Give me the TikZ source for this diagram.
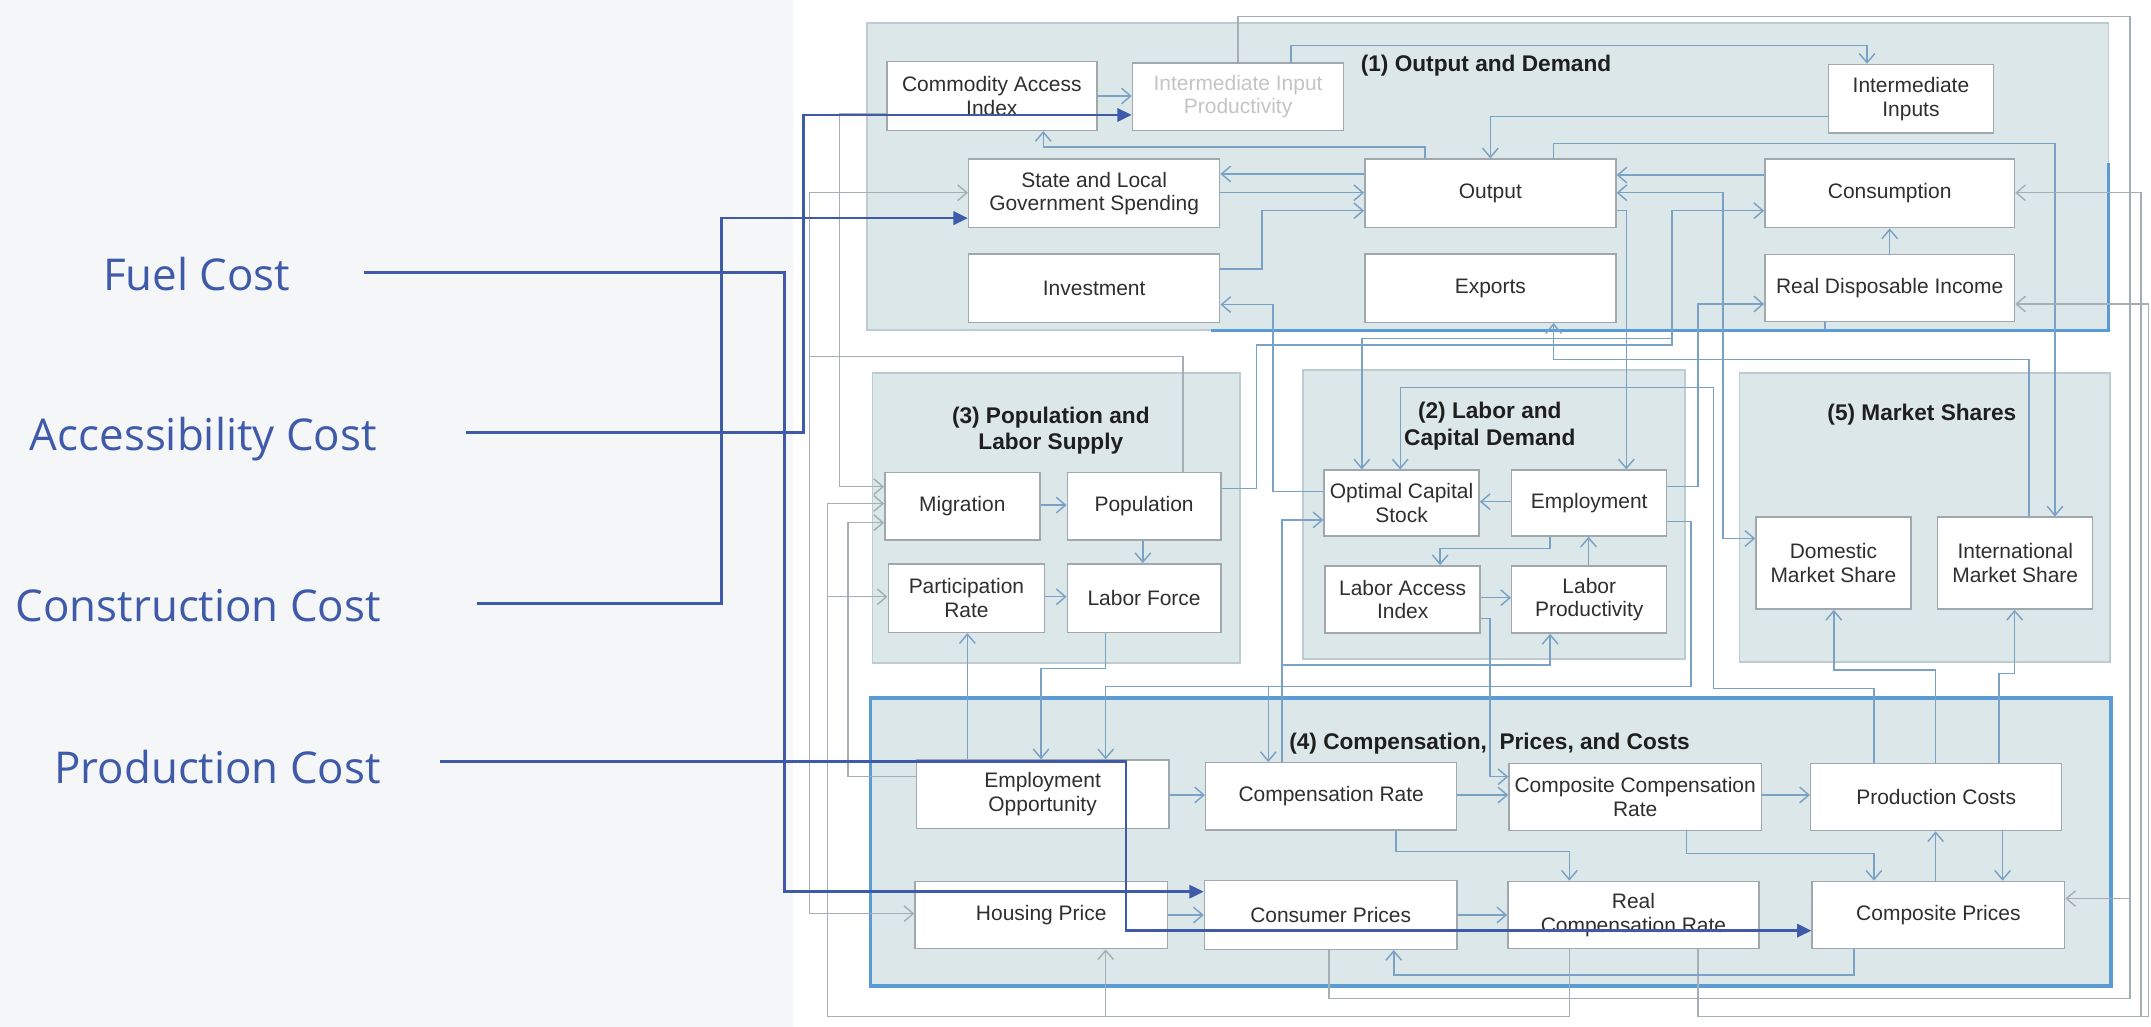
\documentclass[tikz,border=0pt]{standalone}
\usepackage{fontspec}
\setmainfont{Liberation Sans}
\newfontfamily\costfont{Open Sans}
\usetikzlibrary{arrows.meta}

\definecolor{paper}{HTML}{F5F6F8}
\definecolor{panel}{HTML}{DCE7EA}
\definecolor{panelrim}{HTML}{BCCCD1}
\definecolor{rim}{HTML}{A0A8AD}
\definecolor{wire}{HTML}{7AA2C4}
\definecolor{greyline}{HTML}{A5AEB5}
\definecolor{hilite}{HTML}{5B9BD5}
\definecolor{costblue}{HTML}{3F5AA8}
\definecolor{ink}{HTML}{2F2F2F}
\definecolor{faded}{HTML}{C4C4C4}

\pgfdeclarelayer{back}
\pgfsetlayers{back,main}

\tikzset{
  bx/.style={draw=rim, line width=0.6pt, fill=white, align=center, inner sep=1pt,
    text=ink, font=\fontsize{8.7}{9.8}\selectfont},
  pnl/.style={draw=panelrim, line width=0.8pt, fill=panel},
  ttl/.style={font=\fontsize{9.4}{11}\selectfont\bfseries, text=black!88,
    align=center, inner sep=0pt},
  wr/.style={draw=wire, line width=0.6pt, ->},
  lp/.style={draw=greyline, line width=0.6pt, ->},
  cost/.style={font=\costfont\fontsize{18.2}{22}\selectfont, text=costblue,
    inner sep=0pt, anchor=base east},
  feed/.style={draw=costblue, line width=1.1pt, -{Triangle[length=6pt,width=5.5pt]}}
}

\begin{document}
\begin{tikzpicture}[x=0.02cm, y=-0.02cm, >={Straight Barb[length=3.8pt,width=6.5pt]}]
  \path[use as bounding box] (0,0) rectangle (1568,748.6);

  \foreach \nm/\cx/\cy/\bw/\bh/\txt in {
    cai/723/70/153/50/{Commodity Access\\Index},
    ii/1393/72/120/50/{Intermediate\\Inputs},
    slg/797.6/141/183/50/{State and Local\\Government Spending},
    out/1086.4/141/183/50/Output,
    con/1377.5/141/182/50/Consumption,
    inv/797.6/210/183/50/Investment,
    exp/1086.4/210/183/50/Exports,
    rdi/1377.5/210/182/49/Real Disposable Income,
    mig/701.5/369/113/49/Migration,
    pop/834/369/112/49/Population,
    par/704.5/436/114/50/{Participation\\Rate},
    lab/834/436/112/50/Labor Force,
    ocs/1021.7/366.7/113/48/{Optimal Capital\\Stock},
    emp/1158.5/366.7/113/48/Employment,
    lai/1022.5/437/113/49/{Labor Access\\Index},
    lpr/1158.5/437/113/49/{Labor\\Productivity},
    dms/1336.5/410.5/113/67/{Domestic\\Market Share},
    ims/1469/410.5/113/67/{International\\Market Share},
    eop/760/579/184/50/{Employment\\Opportunity},
    cor/970.4/580.5/183/49/Compensation Rate,
    ccr/1192/581/184/49/{Composite Compensation\\Rate},
    pco/1411.4/581/183/49/Production Costs,
    hou/759/667/184/49/Housing Price,
    cpr/970/667/184/50/Consumer Prices,
    rcr/1190.7/667/183/49/{Real\\Compensation Rate},
    cop/1413/667/184/49/Composite Prices}
  { \node[bx, minimum width=\bw*0.02cm, minimum height=\bh*0.02cm] (\nm) at (\cx,\cy) {\txt}; }
  \node[bx, text=faded, minimum width=3.08cm, minimum height=0.98cm] (iip) at (902.5,70.5)
    {Intermediate Input\\Productivity};

  \node[ttl, anchor=west] (t1) at (991.6,48) {(1) Output and Demand};
  \node[ttl] (t3) at (766,314) {(3) Population and\\Labor Supply};
  \node[ttl] (t2) at (1086,310.5) {(2) Labor and\\Capital Demand};
  \node[ttl] (t5) at (1401,302.6) {(5) Market Shares};
  \node[ttl, anchor=west] (t4) at (939.5,541.9) {(4) Compensation,\ \ Prices, and Costs};

  \begin{pgfonlayer}{back}
    \fill[paper] (0,0) rectangle (1568,748.6);
    \fill[white] (578,0) rectangle (1568,748.6);
    \draw[pnl] (632,17) rectangle (1537,240.6);
    \draw[pnl] (636,272) rectangle (903.7,483.6);
    \draw[pnl] (950,269.7) rectangle (1228.4,480.7);
    \draw[pnl] (1268,272) rectangle (1538,482.5);
    \draw[pnl, draw=hilite, line width=1.6pt] (634.6,509) rectangle (1538.6,718.5);
    \draw[hilite, line width=1.2pt] (883,240.6) -| (1537,119);
  \end{pgfonlayer}

  % output and demand
  \draw[wr] (cai.east) -- (cai.east -| iip.west);
  \draw[wr] (1038.8,0 |- out.north) |- (760.5,107) -- (760.5,0 |- cai.south);
  \draw[wr] (ii.west |- 0,85) -| (out.north);
  \draw[wr] (941,0 |- iip.north) -- (941,33) -| (1361,0 |- ii.north);
  \draw[wr] (out.west |- 0,126.8) -- (slg.east |- 0,126.8);
  \draw[wr] (slg.east |- 0,140.5) -- (out.west |- 0,140.5);
  \draw[wr] (inv.east |- 0,196) -- (920,196) |- (out.west |- 0,153.6);
  \draw[wr] (ocs.west |- 0,358.4) -| (928,222) -- (inv.east |- 0,222);
  \draw[wr] (con.west |- 0,127.6) -- (out.east |- 0,127.6);
  \draw[wr] (out.east |- 0,153.6) -| (1185.5,0 |- emp.north);
  \draw[wr] (1132.5,0 |- out.north) |- (1498,104.5) -- (1498,0 |- ims.north);
  \draw[wr] (rdi.north) -- (con.south);
  \draw[wr, <->] (out.east |- 0,140.5) -| (1256,392.5) -- (dms.west |- 0,392.5);
  \draw[wr] (pop.east |- 0,356) -| (916,251.5) -| (1218.7,153.6) -- (con.west |- 0,153.6);
  \draw[wr] (1218.7,246.6) -| (992.7,0 |- ocs.north);
  \draw[wr] (emp.east |- 0,354.8) -| (1237.6,221.6) -- (rdi.west |- 0,221.6);
  \draw[wr] (1479,0 |- ims.north) |- (1132.5,262) -- (1132.5,0 |- exp.south);
  \draw[wr, -] (1330.3,0 |- rdi.south) -- (1330.3,240.6);

  % long loops
  \draw[lp] (iip.north) |- (1552.8,12) |- (cop.east |- 0,655);
  \draw[lp, -] (1552.8,655) |- (968.8,727.8) -- (968.8,0 |- cpr.south);
  \draw[lp] (1237.6,0 |- rcr.south) |- (1566,741) |- (rdi.east |- 0,221.6);
  \draw[lp] (1560.7,741) |- (con.east |- 0,140.5);
  \draw[lp] (1144,0 |- rcr.south) |- (603.4,741) |- (mig.west |- 0,367);
  \draw[lp] (603.4,435) -- (par.west |- 0,435);
  \draw[lp] (806,741) -- (806,0 |- hou.south);
  \draw[lp] (cai.west |- 0,82.6) -| (611.8,354.8) -- (mig.west |- 0,354.8);
  \draw[lp] (862.4,0 |- pop.north) |- (590,260) |- (slg.west |- 0,140.5);
  \draw[lp] (590,260) |- (hou.west |- 0,666);
  \draw[lp] (eop.west |- 0,566.2) -| (618.3,381) -- (mig.west |- 0,381);

  % population and labor supply
  \draw[wr] (mig.east |- 0,368.2) -- (pop.west |- 0,368.2);
  \draw[wr] (833.1,0 |- pop.south) -- (833.1,0 |- lab.north);
  \draw[wr] (par.east |- 0,435) -- (lab.west |- 0,435);
  \draw[wr] (705.2,0 |- eop.north) -- (705.2,0 |- par.south);
  \draw[wr] (806,0 |- lab.south) |- (758.9,487.3) -- (758.9,0 |- eop.north);

  % labor and capital demand
  \draw[wr] (emp.east |- 0,380.3) -| (1232.7,500.6) -| (806,0 |- eop.north);
  \draw[wr] (924.5,500.6) -- (924.5,0 |- cor.north);
  \draw[wr] (934.6,0 |- cor.north) |- (ocs.west |- 0,379);
  \draw[wr] (934.6,484.8) -| (1130,0 |- lpr.south);
  \draw[wr] (emp.west |- 0,365.7) -- (ocs.east |- 0,365.7);
  \draw[wr] (1130,0 |- emp.south) |- (1049.8,399.7) -- (1049.8,0 |- lai.north);
  \draw[wr] (1158,0 |- lpr.north) -- (1158,0 |- emp.south);
  \draw[wr] (lai.east |- 0,435.7) -- (lpr.west |- 0,435.7);
  \draw[wr] (lai.east |- 0,450.8) -| (1086.3,566.2) -- (ccr.west |- 0,566.2);
  \draw[wr] (1366,0 |- pco.north) |- (1249,501.8) |- (1020.7,282.4) -- (1020.7,0 |- ocs.north);
  \draw[wr] (1411,0 |- pco.north) |- (1336.8,488.5) -- (1336.8,0 |- dms.south);
  \draw[wr] (1457.2,0 |- pco.north) |- (1468.6,490.9) -- (1468.6,0 |- ims.south);

  % compensation, prices and costs
  \draw[wr] (eop.east |- 0,579.5) -- (cor.west |- 0,579.5);
  \draw[wr] (cor.east |- 0,579.5) -- (ccr.west |- 0,579.5);
  \draw[wr] (ccr.east |- 0,579.5) -- (pco.west |- 0,579.5);
  \draw[wr] (hou.east |- 0,667) -- (cpr.west |- 0,667);
  \draw[wr] (cpr.east |- 0,667) -- (rcr.west |- 0,667);
  \draw[wr] (1017.6,0 |- cor.south) |- (1144,620.8) -- (1144,0 |- rcr.north);
  \draw[wr] (1229.5,0 |- ccr.south) |- (1366,622) -- (1366,0 |- cop.north);
  \draw[wr] (1459.8,0 |- pco.south) -- (1459.8,0 |- cop.north);
  \draw[wr] (1411,0 |- cop.north) -- (1411,0 |- pco.south);
  \draw[wr] (1351.5,0 |- cop.south) |- (1016,710.8) -- (1016,0 |- cpr.south);

  \foreach \nm/\lx/\ly/\txt in {fuel/212/212/Fuel Cost, acc/275/328.5/Accessibility Cost,
      cons/278/452.7/Construction Cost, prod/278/571/Production Cost}
  { \node[cost] (\nm) at (\lx,\ly) {\txt}; }

  \draw[feed] (fuel.base east) ++(53,-13.2) -| (572,650) -- (cpr.west |- 0,650);
  \draw[feed] (acc.base east) ++(65,-13.1) -| (585.8,83.8) -- (iip.west |- 0,83.8);
  \draw[feed] (cons.base east) ++(70,-12.7) -| (526,159) -- (slg.west |- 0,159);
  \draw[feed] (prod.base east) ++(42.7,-15.7) -| (820.7,678.4) -- (cop.west |- 0,678.4);
\end{tikzpicture}
\end{document}
